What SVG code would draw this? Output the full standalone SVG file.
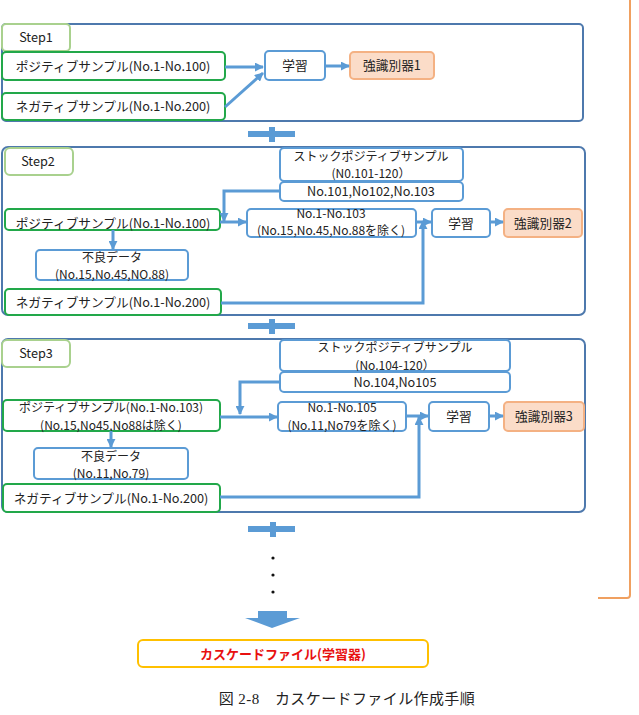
<svg xmlns="http://www.w3.org/2000/svg" width="639" height="715" viewBox="0 0 639 715">
<defs>
<marker id="ah" markerUnits="userSpaceOnUse" markerWidth="9" markerHeight="9" viewBox="0 0 10 10" refX="9" refY="5" orient="auto"><path d="M0,0 L10,5 L0,10 z" fill="#5b9bd5"/></marker>
<style>
text{font-family:"Noto Sans CJK JP","Noto Sans",sans-serif;font-size:12.7px;fill:#222;text-anchor:middle}
text.two{font-size:12px}
.frame{fill:none;stroke:#4e79ad;stroke-width:2}
.lbl{fill:#fff;stroke:#a9d18e;stroke-width:2}
.grn{fill:#fff;stroke:#22a84a;stroke-width:2}
.blu{fill:#fff;stroke:#5b9bd5;stroke-width:2}
.pch{fill:#fbdcc8;stroke:#f4b183;stroke-width:2}
.con{fill:none;stroke:#5b9bd5;stroke-width:3}
.bar{fill:#5b9bd5}
</style>
</defs>
<path d="M630,0 V595 Q630,598 627,598 H598" fill="none" stroke="#f0a060" stroke-width="2"/>
<g id="step1">
<rect class="frame" x="2" y="24" width="581" height="97" rx="4"/>
<g id="step1-label"><rect class="lbl" x="2" y="24" width="68" height="27" rx="4"/><text x="36" y="42">Step1</text></g>
<g id="pos1"><rect class="grn" x="2" y="52" width="223" height="28" rx="4"/><text x="113" y="71">ポジティブサンプル(No.1-No.100)</text></g>
<g id="neg1"><rect class="grn" x="2" y="93" width="223" height="27" rx="4"/><text x="113" y="111">ネガティブサンプル(No.1-No.200)</text></g>
<g id="learn1"><rect class="blu" x="265" y="51" width="60" height="29" rx="4"/><text x="295" y="70">学習</text></g>
<g id="strong1"><rect class="pch" x="350" y="52" width="84" height="27" rx="4"/><text x="392" y="70">強識別器1</text></g>
</g>
<g id="step2">
<rect class="frame" x="2" y="147" width="583" height="168" rx="6"/>
<g id="step2-label"><rect class="lbl" x="5" y="148" width="68" height="27" rx="5"/><text x="38" y="166">Step2</text></g>
<g id="stock2"><rect class="blu" x="280" y="148" width="183" height="33" rx="4"/><text class="two" x="371" y="160.5">ストックポジティブサンプル</text><text class="two" x="371" y="178">(N0.101-120）</text></g>
<g id="nums2"><rect class="blu" x="280" y="182" width="183" height="19" rx="4"/><text x="371" y="196">No.101,No102,No.103</text></g>
<g id="pos2"><rect class="grn" x="5" y="209" width="215" height="21" rx="4"/><text x="113" y="228">ポジティブサンプル(No.1-No.100)</text></g>
<g id="sel2"><rect class="blu" x="247" y="209" width="169" height="28" rx="4"/><text class="two" x="331" y="217.5">No.1-No.103</text><text class="two" x="331" y="235">(No.15,No.45,No.88を除く)</text></g>
<g id="learn2"><rect class="blu" x="432" y="209" width="58" height="28" rx="4"/><text x="461" y="228">学習</text></g>
<g id="strong2"><rect class="pch" x="504" y="209" width="78" height="28" rx="4"/><text x="543" y="228">強識別器2</text></g>
<g id="bad2"><rect class="blu" x="36" y="250" width="152" height="30" rx="4"/><text class="two" x="112" y="261.5">不良データ</text><text class="two" x="112" y="279">(No.15,No.45,NO.88)</text></g>
<g id="neg2"><rect class="grn" x="5" y="289" width="216" height="26" rx="4"/><text x="113" y="307">ネガティブサンプル(No.1-No.200)</text></g>
</g>
<g id="step3">
<rect class="frame" x="2" y="339" width="583" height="173" rx="6"/>
<g id="step3-label"><rect class="lbl" x="2" y="340" width="68" height="27" rx="5"/><text x="36" y="358">Step3</text></g>
<g id="stock3"><rect class="blu" x="280" y="340" width="230" height="31" rx="4"/><text class="two" x="395" y="352">ストックポジティブサンプル</text><text class="two" x="395" y="369.5">(No.104-120）</text></g>
<g id="nums3"><rect class="blu" x="280" y="372" width="230" height="20" rx="4"/><text x="395" y="387">No.104,No105</text></g>
<g id="pos3"><rect class="grn" x="3" y="400" width="217" height="31" rx="4"/><text class="two" x="111" y="412">ポジティブサンプル(No.1-No.103)</text><text class="two" x="111" y="429.5">(No.15,No45,No88は除く)</text></g>
<g id="sel3"><rect class="blu" x="278" y="402" width="128" height="29" rx="4"/><text class="two" x="342" y="412">No.1-No.105</text><text class="two" x="342" y="429.5">(No.11,No79を除く)</text></g>
<g id="learn3"><rect class="blu" x="429" y="402" width="60" height="29" rx="4"/><text x="459" y="421">学習</text></g>
<g id="strong3"><rect class="pch" x="504" y="402" width="80" height="29" rx="4"/><text x="544" y="421">強識別器3</text></g>
<g id="bad3"><rect class="blu" x="34" y="448" width="154" height="31" rx="4"/><text class="two" x="111" y="460.5">不良データ</text><text class="two" x="111" y="478">(No.11,No.79)</text></g>
<g id="neg3"><rect class="grn" x="3" y="484" width="217" height="28" rx="4"/><text x="111" y="503">ネガティブサンプル(No.1-No.200)</text></g>
</g>
<g id="connectors">
<line class="con" x1="225" y1="67" x2="263" y2="67" marker-end="url(#ah)"/>
<line class="con" x1="225" y1="107" x2="263" y2="73" marker-end="url(#ah)"/>
<line class="con" x1="325" y1="66" x2="349" y2="66" marker-end="url(#ah)"/>
<polyline class="con" points="280,191 224,191 224,221" marker-end="url(#ah)"/>
<line class="con" x1="220" y1="222" x2="246" y2="222" marker-end="url(#ah)"/>
<line class="con" x1="416" y1="222" x2="431" y2="222" marker-end="url(#ah)"/>
<polyline class="con" points="221,303 423,303 423,221" marker-end="url(#ah)"/>
<line class="con" x1="490" y1="222" x2="503" y2="222" marker-end="url(#ah)"/>
<line class="con" x1="113" y1="230" x2="113" y2="249" marker-end="url(#ah)"/>
<polyline class="con" points="280,382 240,382 240,414" marker-end="url(#ah)"/>
<line class="con" x1="220" y1="417" x2="277" y2="417" marker-end="url(#ah)"/>
<line class="con" x1="406" y1="416" x2="428" y2="416" marker-end="url(#ah)"/>
<polyline class="con" points="220,497 419,497 419,417" marker-end="url(#ah)"/>
<line class="con" x1="489" y1="416" x2="503" y2="416" marker-end="url(#ah)"/>
<line class="con" x1="111" y1="431" x2="111" y2="447" marker-end="url(#ah)"/>
</g>
<g id="plus1"><rect class="bar" x="248" y="131" width="47" height="6"/><rect class="bar" x="269" y="127" width="6" height="15"/></g>
<g id="plus2"><rect class="bar" x="248" y="323" width="47" height="6"/><rect class="bar" x="269" y="319" width="6" height="15"/></g>
<g id="plus3"><rect class="bar" x="248" y="526" width="47" height="6"/><rect class="bar" x="270" y="522" width="6" height="15"/></g>
<g id="dots" fill="#111"><circle cx="273" cy="558" r="1.6"/><circle cx="273" cy="575" r="1.6"/><circle cx="273" cy="592" r="1.6"/></g>
<polygon id="bigarrow" class="bar" points="258,611 287,611 287,618 300,618 272,628 245,618 258,618"/>
<g id="cascade"><rect x="138" y="640" width="290" height="27" rx="5" fill="#fff" stroke="#ffc000" stroke-width="2"/><text x="283" y="659" style="fill:#e81010;font-weight:bold;font-size:13px">カスケードファイル(学習器)</text></g>
<text x="347" y="704" style="font-family:'Liberation Serif','Noto Sans CJK JP',serif;font-size:15px;letter-spacing:0.4px">図 2-8　カスケードファイル作成手順</text>
</svg>
